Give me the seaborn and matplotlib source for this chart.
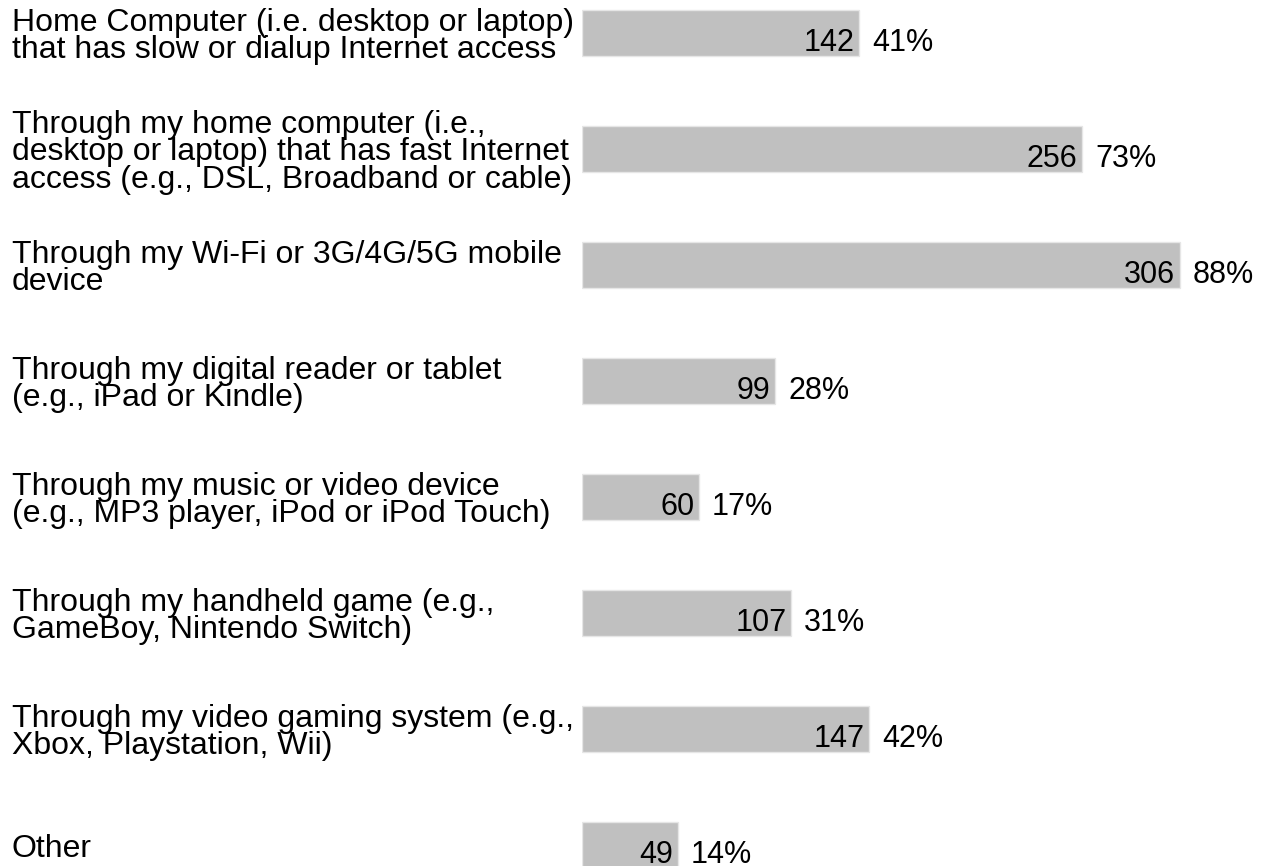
import matplotlib
matplotlib.use("Agg")
import matplotlib.pyplot as plt
import matplotlib.transforms as mtransforms
import seaborn as sns
import pandas as pd

categories = [
    "Home Computer (i.e. desktop or laptop)\nthat has slow or dialup Internet access",
    "Through my home computer (i.e.,\ndesktop or laptop) that has fast Internet\naccess (e.g., DSL, Broadband or cable)",
    "Through my Wi-Fi or 3G/4G/5G mobile\ndevice",
    "Through my digital reader or tablet\n(e.g., iPad or Kindle)",
    "Through my music or video device\n(e.g., MP3 player, iPod or iPod Touch)",
    "Through my handheld game (e.g.,\nGameBoy, Nintendo Switch)",
    "Through my video gaming system (e.g.,\nXbox, Playstation, Wii)",
    "Other",
]
counts = [142, 256, 306, 99, 60, 107, 147, 49]
percents = ["41%", "73%", "88%", "28%", "17%", "31%", "42%", "14%"]

df = pd.DataFrame({"category": categories, "count": counts, "pct": percents})

sns.set_style("white")
plt.rcParams["font.family"] = ["Liberation Sans", "DejaVu Sans"]
plt.rcParams["text.color"] = "black"

fig = plt.figure(figsize=(12.61, 8.66), dpi=100)
ax = fig.add_axes([582 / 1261, 0, 1 - 582 / 1261, 1])

sns.barplot(data=df, y="category", x="count", orient="h", color="#c0c0c0",
            saturation=1, width=0.4, edgecolor="#e6e6e6", linewidth=1, ax=ax)

ax.set_xlim(0, 347.5)
ax.set_ylim(7.18, -0.284)
ax.set_axis_off()

# category labels sit at the left edge of the figure, centred on each bar
label_tr = mtransforms.blended_transform_factory(fig.transFigure, ax.transData)
for i, row in df.iterrows():
    ax.text(12 / 1261, i + 0.03, row["category"], transform=label_tr,
            ha="left", va="center", fontsize=23, linespacing=0.88, color="black")
    ax.text(row["count"] - 2.4, i + 0.155, str(row["count"]),
            ha="right", va="baseline", fontsize=22, color="black")
    ax.text(row["count"] + 6.5, i + 0.155, row["pct"],
            ha="left", va="baseline", fontsize=22, color="black")

fig.savefig("out.png", dpi=100)
